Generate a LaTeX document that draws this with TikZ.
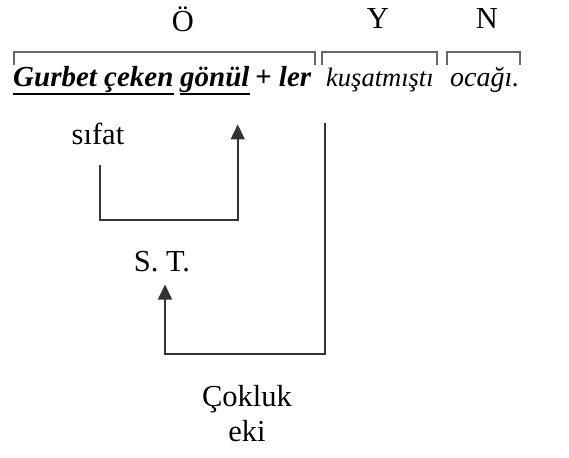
\documentclass[tikz,border=0pt]{standalone}
\usepackage{fontspec}
\setmainfont{Liberation Serif}
\usetikzlibrary{arrows.meta,positioning}

\begin{document}
\begin{tikzpicture}[x=1pt, y=-1pt,
  lbl/.style={font=\fontsize{30.5}{35}\selectfont, inner sep=0pt, align=center},
  word/.style={font=\fontsize{28}{32}\selectfont\itshape, inner sep=0pt, anchor=base west},
  bword/.style={word, font=\fontsize{29}{32}\selectfont\bfseries\itshape},
  brk/.style={draw=black!60, line width=2pt},
  uline/.style={draw=black, line width=2.4pt},
  lin/.style={draw=black!80, line width=1.6pt},
  arr/.style={lin, -{Triangle[length=15pt, width=14pt]}}
]
  \useasboundingbox (0,0) rectangle (569,457);

  % ogeler
  \node[lbl] (o) at (183,19) {Ö};
  \node[lbl] (y) at (378,19) {Y};
  \node[lbl] (n) at (487,19) {N};

  % cumle
  \node[bword] (gc) at (13,87) {Gurbet çeken};
  \node[bword] (gonul) at (180,87) {gönül};
  \node[bword] (ler) at (255,87) {+ ler};
  \node[word, font=\fontsize{26.5}{32}\selectfont\itshape] (kus) at (326,87) {kuşatmıştı};
  \node[word] (ocak) at (450,87) {ocağı.};

  \draw[uline] ([yshift=-7pt]gc.base west) -- ([yshift=-7pt]gc.base east);
  \draw[uline] ([yshift=-7pt]gonul.base west) -- ([yshift=-7pt]gonul.base east);

  % ayraclar
  \draw[brk] (14,65) |- (315,52) -- (315,65);
  \draw[brk] (322,65) |- (437,52) -- (437,65);
  \draw[brk] (447,65) |- (520,52) -- (520,65);

  % etiketler
  \node[lbl] (sifat) at (98,134) {sıfat};
  \node[lbl] (st) at (162,262) {S. T.};
  \node[lbl] (cokluk) at (247,414) {Çokluk\\eki};

  \coordinate (ltop) at (325,123);

  \draw[arr, shorten >=31pt] ([xshift=2pt, yshift=-20pt]sifat.south) -- ++(0,55) -| ([xshift=-12pt]gonul.south east);
  \draw[arr, shorten >=12pt] (ltop) -- ++(0,231) -| ([xshift=3pt]st.south);
\end{tikzpicture}
\end{document}
